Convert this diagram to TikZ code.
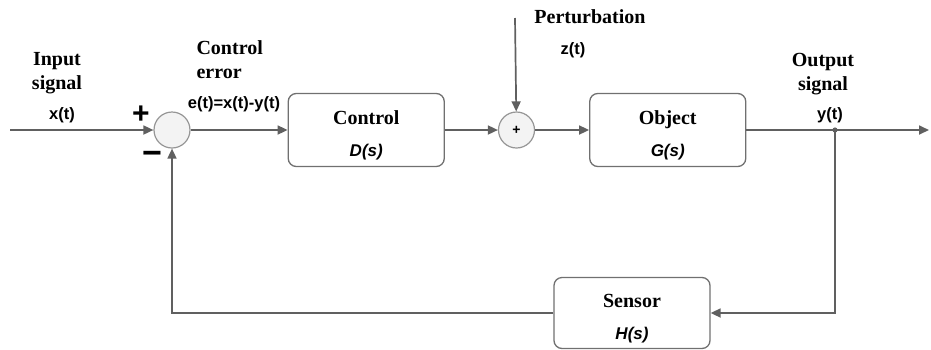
\documentclass[tikz,border=0pt]{standalone}
\usepackage{fontspec}
\setmainfont{Liberation Serif}
\setsansfont{Liberation Sans}
\usepackage{xcolor}
\usepackage{tikz}
\usetikzlibrary{positioning,arrows.meta}

\definecolor{linegray}{RGB}{96,96,96}
\definecolor{boxgray}{RGB}{112,112,112}
\definecolor{sumfill}{RGB}{243,243,243}
\definecolor{sumdraw}{RGB}{150,150,150}

\newcommand{\sig}[1]{{\sffamily\bfseries #1}}
\newcommand{\tf}[1]{{\fontsize{17}{20}\selectfont\sffamily\bfseries\itshape #1}}
\newcommand{\bname}[1]{\rule{0pt}{24pt}#1}

\begin{document}
\begin{tikzpicture}[x=1pt, y=-1pt,
    block/.style={draw=boxgray, line width=1.3pt, rounded corners=8pt, minimum width=156pt, minimum height=73pt, align=center, font=\fontsize{20}{24}\selectfont\bfseries},
    sum/.style={circle, draw=sumdraw, fill=sumfill, line width=1.2pt, minimum size=36pt, inner sep=0pt},
    title/.style={font=\fontsize{20}{24}\selectfont\bfseries, align=center},
    sigl/.style={font=\fontsize{16.5}{20}\selectfont},
    wire/.style={draw=linegray, line width=1.7pt, -{Triangle[length=10pt,width=9pt]}}]
  \useasboundingbox (0,0) rectangle (931,349);

  % blocks
  \node[sum] (S1) at (172,130) {};
  \node[block] (C) [right = 97pt of S1] {\bname{Control}\\[8pt]\tf{D(s)}};
  \node[sum, font=\fontsize{14}{14}\selectfont\sffamily\bfseries] (S2) [right = 53pt of C] {+};
  \node[block] (O) [right = 54pt of S2] {\bname{Object}\\[8pt]\tf{G(s)}};
  \node[block, minimum height=71pt] (H) at (632,313) {\bname{Sensor}\\[8pt]\tf{H(s)}};

  \coordinate (in) at (10,130);
  \coordinate (out) at (929,130);
  \coordinate (Y) at (835,130);
  \coordinate (Z) at (515,18);

  % labels
  \node[title] (Lin) at (57,73) {Input\\signal};
  \node[sigl] (Lx) at (62,115) {\sig{x(t)}};
  \node[title, align=left, anchor=west] (Lerr) at (193,60) {Control\\error};
  \node[sigl] (Le) at (234,104) {\sig{e(t)=x(t)-y(t)}};
  \node[title] (Lz) at (590,17) {Perturbation};
  \node[sigl] (Lzt) at (573,50) {\sig{z(t)}};
  \node[title] (Lout) at (823,74) {Output\\signal};
  \node[sigl] (Ly) at (830,115) {\sig{y(t)}};
  \node[font=\fontsize{30}{30}\selectfont\sffamily\bfseries] (Lp) at (141,115) {+};
  \node[font=\fontsize{34}{34}\selectfont\sffamily\bfseries] (Lm) at (152,158) {−};

  % connectors
  \draw[wire] (in) -- (S1);
  \draw[wire] (S1) -- (C);
  \draw[wire] (C) -- (S2);
  \draw[wire] (Z) -- (S2);
  \draw[wire] (S2) -- (O);
  \draw[wire] (O) -- (out);
  \draw[wire] (Y) |- (H);
  \draw[wire] (H) -| (S1);
  \fill[linegray] (Y) circle (2.6pt);
\end{tikzpicture}
\end{document}
